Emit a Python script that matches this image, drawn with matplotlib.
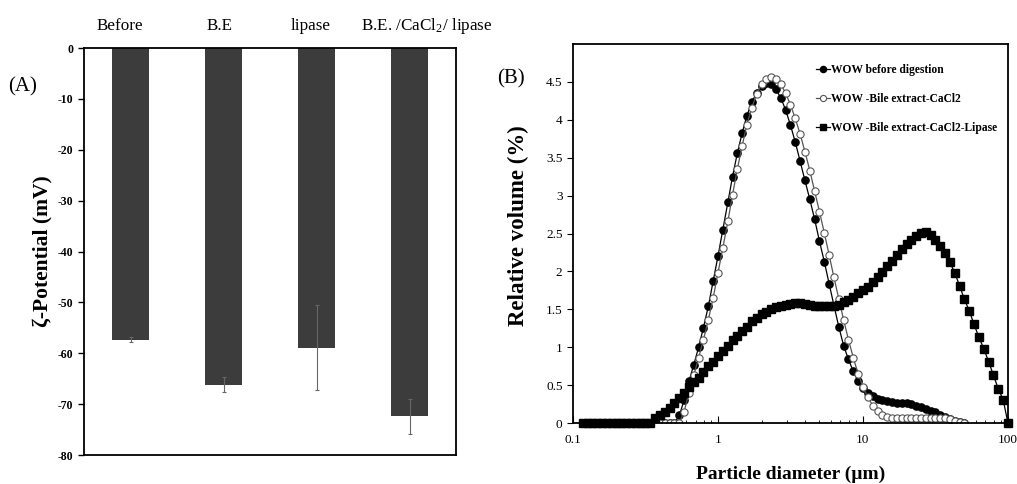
import matplotlib
matplotlib.use('Agg')
import matplotlib.pyplot as plt

plt.rcParams['font.family'] = ['Liberation Serif', 'DejaVu Serif']
plt.rcParams['mathtext.default'] = 'regular'
plt.rcParams['axes.unicode_minus'] = False

# (A) zeta potential
groups = ['Before', 'B.E', 'lipase', 'B.E. /CaCl$_2$/ lipase']
zeta = [-57.3, -66.2, -58.9, -72.4]
zeta_err = [0.4, 1.5, 8.4, 3.5]

# (B) particle size distribution, size classes in um
diam = [0.117, 0.126, 0.136, 0.147, 0.158, 0.171, 0.185, 0.200, 0.215, 0.233,
        0.251, 0.271, 0.293, 0.316, 0.341, 0.369, 0.398, 0.430, 0.464, 0.501,
        0.541, 0.584, 0.631, 0.681, 0.736, 0.794, 0.858, 0.926,
        1.00, 1.08, 1.17, 1.26, 1.36, 1.47, 1.58, 1.71, 1.85, 2.00,
        2.15, 2.33, 2.51, 2.71, 2.93, 3.16, 3.41, 3.69, 3.98, 4.30,
        4.64, 5.01, 5.41, 5.84, 6.31, 6.81, 7.36, 7.94, 8.58, 9.26,
        10.0, 10.8, 11.7, 12.6, 13.6, 14.7, 15.8, 17.1, 18.5, 20.0,
        21.5, 23.3, 25.1, 27.1, 29.3, 31.6, 34.1, 36.9, 39.8, 43.0,
        46.4, 50.1, 54.1, 58.4, 63.1, 68.1, 73.6, 79.4, 85.8, 92.6,
        100.0]

before = [0, 0, 0, 0, 0, 0, 0, 0, 0, 0,
          0, 0, 0, 0, 0, 0, 0, 0, 0, 0,
          0.1, 0.3, 0.55, 0.77, 1.0, 1.26, 1.54, 1.87,
          2.2, 2.55, 2.91, 3.25, 3.56, 3.83, 4.05, 4.23, 4.36, 4.45,
          4.49, 4.47, 4.4, 4.29, 4.13, 3.93, 3.71, 3.45, 3.2, 2.95,
          2.69, 2.4, 2.13, 1.84, 1.55, 1.27, 1.02, 0.84, 0.68, 0.55,
          0.46, 0.39, 0.35, 0.32, 0.3, 0.29, 0.28, 0.27, 0.27, 0.26,
          0.25, 0.23, 0.21, 0.19, 0.16, 0.14, 0.11, 0.08, 0.05, 0.03,
          0.01, 0.0]

bile = [0, 0, 0, 0, 0, 0, 0, 0, 0, 0,
        0, 0, 0, 0, 0, 0, 0, 0, 0, 0,
        0, 0.15, 0.4, 0.63, 0.86, 1.1, 1.36, 1.65,
        1.98, 2.31, 2.66, 3.01, 3.35, 3.66, 3.93, 4.16, 4.34, 4.47,
        4.54, 4.56, 4.54, 4.47, 4.35, 4.2, 4.02, 3.81, 3.58, 3.33,
        3.06, 2.79, 2.51, 2.22, 1.92, 1.64, 1.36, 1.1, 0.86, 0.65,
        0.48, 0.34, 0.23, 0.16, 0.11, 0.08, 0.07, 0.06, 0.06, 0.06,
        0.06, 0.06, 0.06, 0.06, 0.06, 0.06, 0.06, 0.06, 0.05, 0.03,
        0.01, 0.0]

lipase = [0, 0, 0, 0, 0, 0, 0, 0, 0, 0,
          0, 0, 0, 0, 0, 0.07, 0.1, 0.15, 0.2, 0.26,
          0.33, 0.4, 0.47, 0.54, 0.6, 0.67, 0.75, 0.81,
          0.88, 0.95, 1.02, 1.09, 1.15, 1.21, 1.27, 1.34, 1.39, 1.44,
          1.47, 1.5, 1.53, 1.55, 1.56, 1.57, 1.58, 1.58, 1.57, 1.56,
          1.55, 1.54, 1.54, 1.54, 1.55, 1.56, 1.59, 1.62, 1.66, 1.71,
          1.76, 1.8, 1.86, 1.92, 1.99, 2.07, 2.14, 2.21, 2.29, 2.36,
          2.42, 2.47, 2.51, 2.52, 2.48, 2.41, 2.33, 2.24, 2.12, 1.98,
          1.81, 1.63, 1.48, 1.3, 1.13, 0.98, 0.81, 0.63, 0.45, 0.31,
          0.0]

fig = plt.figure(figsize=(10.17, 4.84), dpi=100)

# ---- panel A
ax1 = fig.add_axes([0.0826, 0.0599, 0.3658, 0.8409])
pos = list(range(len(groups)))
ax1.bar(pos, zeta, width=0.4, color='#3c3c3c')
ax1.errorbar(pos, zeta, yerr=zeta_err, fmt='none', ecolor='#666666',
             elinewidth=0.8, capsize=1.5, capthick=0.8)
ax1.set_xlim(-0.5, 3.5)
ax1.set_ylim(-80, 0)
ax1.set_yticks(range(-80, 1, 10))
ax1.set_xticks([])
# group names sit above the frame, a bit off-centre like the original
name_x = [-0.11, 0.96, 1.94, 3.19]
for nx, g in zip(name_x, groups):
    ax1.text(nx, 1.053, g, transform=ax1.get_xaxis_transform(),
             ha='center', va='center', fontsize=12.3)
ax1.tick_params(axis='y', direction='out', length=4, width=1, labelsize=8.5)
for lab in ax1.get_yticklabels():
    lab.set_fontweight('bold')
for s in ax1.spines.values():
    s.set_linewidth(1.3)
ax1.set_ylabel('ζ-Potential (mV)', fontsize=15.5, fontweight='bold', labelpad=4)
fig.text(0.008, 0.82, '(A)', fontsize=15, va='center')

# ---- panel B
ax2 = fig.add_axes([0.5634, 0.126, 0.4277, 0.7831])
ax2.plot(diam[:len(before)], before, '-o', color='black', lw=0.9,
         ms=5.2, mfc='black', mec='black', label='WOW before digestion')
ax2.plot(diam[:len(bile)], bile, '-o', color='#555555', lw=0.9,
         ms=5.2, mfc='white', mec='#555555', mew=0.8,
         label='WOW -Bile extract-CaCl2')
ax2.plot(diam[:len(lipase)], lipase, '-s', color='black', lw=0.9,
         ms=5.2, mfc='black', mec='black', clip_on=False,
         label='WOW -Bile extract-CaCl2-Lipase')
ax2.set_xscale('log')
ax2.set_xlim(0.1, 100)
ax2.set_ylim(0, 5)
ax2.set_yticks([0, 0.5, 1, 1.5, 2, 2.5, 3, 3.5, 4, 4.5])
ax2.set_yticklabels(['0', '0.5', '1', '1.5', '2', '2.5', '3', '3.5', '4', '4.5'])
ax2.set_xticks([0.1, 1, 10, 100])
ax2.set_xticklabels(['0.1', '1', '10', '100'])
ax2.tick_params(axis='x', which='both', direction='in', labelsize=9.5, pad=8)
ax2.tick_params(axis='x', which='major', length=5)
ax2.tick_params(axis='x', which='minor', length=2.5)
ax2.tick_params(axis='y', direction='out', length=4, labelsize=9.5)
for s in ax2.spines.values():
    s.set_linewidth(1.3)
ax2.set_xlabel('Particle diameter (µm)', fontsize=14, fontweight='bold', labelpad=14)
ax2.set_ylabel('Relative volume (%)', fontsize=16.5, fontweight='bold')
ax2.yaxis.set_label_coords(-0.1, 0.52)
ax2.legend(loc='upper right', bbox_to_anchor=(1.0, 0.975), frameon=False,
           prop={'weight': 'bold', 'size': 8.3}, handlelength=1.2,
           handletextpad=0.1, labelspacing=1.5, markerscale=0.85)
fig.text(0.489, 0.837, '(B)', fontsize=15, va='center')

fig.savefig('out.png', dpi=100)
